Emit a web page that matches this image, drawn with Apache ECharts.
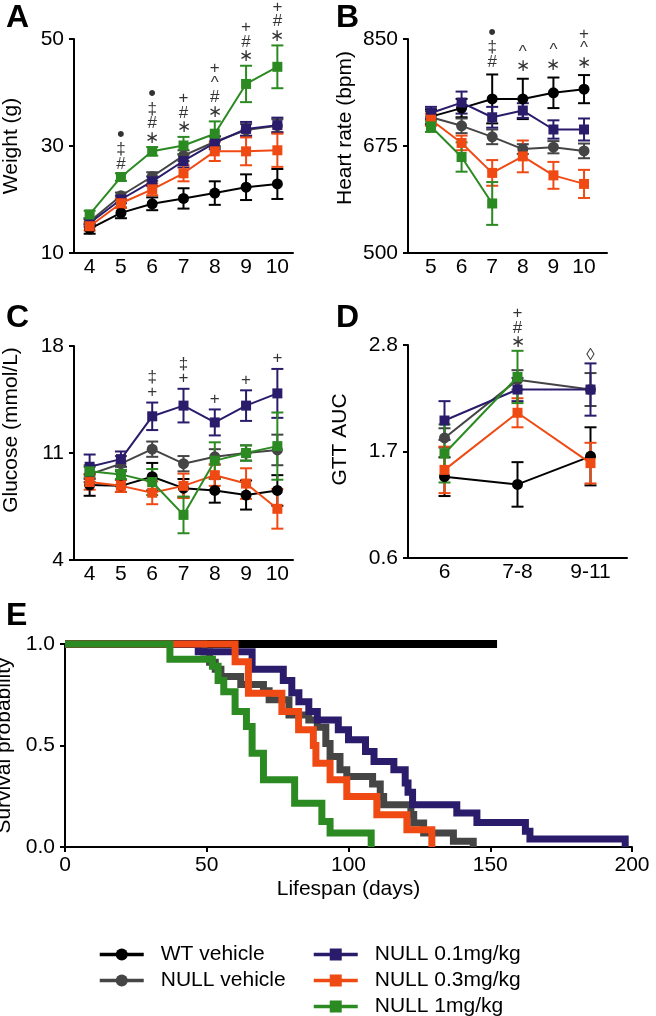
<!DOCTYPE html>
<html><head><meta charset="utf-8">
<script src="https://cdn.jsdelivr.net/npm/echarts@6/dist/echarts.min.js"></script>
<style>html,body{margin:0;padding:0;background:#fff}#c{width:656px;height:1016px}</style>
</head><body><div id="c"></div>
<script>
// ---------- groups ----------
const groupNames = ['WT vehicle', 'NULL vehicle', 'NULL 0.1mg/kg', 'NULL 0.3mg/kg', 'NULL 1mg/kg'];

// ---------- Panel A: weight (g) ----------
const weeksA = [4, 5, 6, 7, 8, 9, 10];
const weightWT = [14.5, 17.5, 19.2, 20.2, 21.2, 22.3, 22.9];
const weightWTErr = [0.9, 1.0, 1.2, 1.9, 2.2, 2.4, 2.8];
const weightNull = [15.9, 20.7, 24.3, 28.2, 30.8, 33.0, 33.8];
const weightNullErr = [0.6, 0.6, 0.8, 1.0, 1.0, 1.1, 1.2];
const weight01 = [15.6, 20.0, 23.4, 27.2, 30.6, 33.2, 33.9];
const weight01Err = [0.7, 0.7, 0.9, 1.2, 1.2, 1.3, 1.4];
const weight03 = [15.0, 19.3, 21.9, 24.9, 29.0, 29.0, 29.2];
const weight03Err = [0.8, 0.9, 1.1, 1.5, 1.8, 2.6, 3.1];
const weight1 = [17.2, 24.2, 29.0, 30.1, 32.3, 41.6, 44.8];
const weight1Err = [0.7, 0.7, 0.8, 1.6, 2.3, 3.4, 4.0];
const annWeeksA = [5, 6, 7, 8, 9, 10];
const annTextA = ['•\n‡\n#', '•\n‡\n#\n∗', '+\n#\n∗', '+\n^\n#\n∗', '+\n#\n∗', '+\n#\n∗'];

// ---------- Panel B: heart rate (bpm) ----------
const weeksB = [5, 6, 7, 8, 9, 10];
const hrWT = [723, 737, 752, 752, 762, 768];
const hrWTErr = [12, 15, 40, 33, 25, 23];
const hrNull = [722, 708, 690, 670, 673, 667];
const hrNullErr = [10, 12, 12, 8, 10, 12];
const hr01 = [729, 746, 722, 733, 702, 702];
const hr01Err = [10, 18, 17, 12, 15, 18];
const hr03 = [718, 680, 631, 658, 627, 613];
const hr03Err = [10, 12, 21, 26, 22, 23];
const hr1 = [707, 657, 581, null, null, null];
const hr1Err = [9, 24, 35, null, null, null];
const annWeeksB = [7, 8, 9, 10];
const annTextB = ['•\n‡\n#', '^\n∗', '^\n∗', '+\n^\n∗'];

// ---------- Panel C: glucose (mmol/L) ----------
const weeksC = [4, 5, 6, 7, 8, 9, 10];
const gluWT = [8.9, 8.85, 9.45, 8.7, 8.55, 8.25, 8.55];
const gluWTErr = [0.7, 0.4, 0.9, 0.6, 0.8, 0.95, 1.0];
const gluNull = [9.6, 10.3, 11.25, 10.3, 10.75, 11.0, 11.2];
const gluNullErr = [0.5, 0.5, 0.5, 0.5, 0.5, 0.5, 1.0];
const glu01 = [10.1, 10.6, 13.4, 14.1, 13.0, 14.1, 14.9];
const glu01Err = [0.8, 0.5, 0.9, 1.1, 0.85, 1.0, 1.6];
const glu03 = [9.1, 8.85, 8.4, 8.85, 9.55, 9.0, 7.35];
const glu03Err = [0.5, 0.4, 0.75, 0.8, 0.7, 1.0, 1.3];
const glu1 = [9.8, 9.6, 9.1, 6.95, 10.5, 11.0, 11.45];
const glu1Err = [0.4, 0.3, 0.85, 1.2, 1.2, 0.5, 2.2];
const annWeeksC = [6, 7, 8, 9, 10];
const annTextC = ['‡\n+', '‡\n+', '+', '+', '+'];

// ---------- Panel D: GTT AUC ----------
const gttWeeks = ['6', '7-8', '9-11'];
const gttWT = [1.44, 1.36, 1.65];
const gttWTErr = [0.2, 0.23, 0.3];
const gttNull = [1.84, 2.44, 2.34];
const gttNullErr = [0.1, 0.1, 0.17];
const gtt01 = [2.02, 2.34, 2.34];
const gtt01Err = [0.2, 0.12, 0.27];
const gtt03 = [1.51, 2.10, 1.58];
const gtt03Err = [0.24, 0.15, 0.21];
const gtt1 = [1.68, 2.47, null];
const gtt1Err = [0.3, 0.27, null];
const annWeeksD = ['7-8', '9-11'];
const annTextD = ['+\n#\n∗', '◊'];

// ---------- Panel E: survival ----------
const kmWTDays = [0, 152.4];
const kmWTSurv = [1, 1];
const kmNullDays = [0, 49, 51, 53, 55, 62, 70, 72, 79, 86, 89, 92, 93.5, 97, 99.4, 108.5, 111.2, 112.4, 122, 123, 126.5, 137, 144];
const kmNullSurv = [1, 0.96, 0.91, 0.876, 0.84, 0.80, 0.77, 0.725, 0.65, 0.626, 0.59, 0.51, 0.446, 0.38, 0.347, 0.31, 0.249, 0.208, 0.16, 0.118, 0.069, 0.028, 0];
const km01Days = [0, 47, 66, 77, 80, 82.5, 86, 89, 96.4, 100, 106, 109, 116, 120, 121, 122.6, 138.2, 145.3, 162.4, 164, 197.6];
const km01Surv = [1, 0.962, 0.876, 0.82, 0.76, 0.716, 0.667, 0.626, 0.577, 0.528, 0.47, 0.421, 0.38, 0.315, 0.27, 0.208, 0.167, 0.121, 0.077, 0.039, 0];
const km03Days = [0, 60, 64.7, 76.5, 82.4, 87.6, 88.5, 93.5, 99.4, 110, 120.6, 129.4];
const km03Surv = [1, 0.913, 0.757, 0.667, 0.577, 0.5, 0.413, 0.331, 0.249, 0.159, 0.085, 0];
const km1Days = [0, 37, 52, 54, 56, 60, 64, 66, 70, 81, 90.6, 93.5, 108];
const km1Surv = [1, 0.925, 0.89, 0.82, 0.765, 0.667, 0.593, 0.462, 0.331, 0.216, 0.126, 0.069, 0];

// ---------- styles ----------
const COL = {'WT vehicle': '#000000', 'NULL vehicle': '#454545', 'NULL 0.1mg/kg': '#2b1b6b', 'NULL 0.3mg/kg': '#ef4a14', 'NULL 1mg/kg': '#2c8a22'};
const SYM = {'WT vehicle': 'circle', 'NULL vehicle': 'circle', 'NULL 0.1mg/kg': 'rect', 'NULL 0.3mg/kg': 'rect', 'NULL 1mg/kg': 'rect'};
const FONT = 'Liberation Sans, Arial, Helvetica, sans-serif';
const drawOrder = ['WT vehicle', 'NULL vehicle', 'NULL 0.1mg/kg', 'NULL 0.3mg/kg', 'NULL 1mg/kg'];

const panels = [
  {xs: weeksA, vals: {'WT vehicle': weightWT, 'NULL vehicle': weightNull, 'NULL 0.1mg/kg': weight01, 'NULL 0.3mg/kg': weight03, 'NULL 1mg/kg': weight1},
   errs: {'WT vehicle': weightWTErr, 'NULL vehicle': weightNullErr, 'NULL 0.1mg/kg': weight01Err, 'NULL 0.3mg/kg': weight03Err, 'NULL 1mg/kg': weight1Err},
   annX: annWeeksA, annT: annTextA, dist: 2},
  {xs: weeksB, vals: {'WT vehicle': hrWT, 'NULL vehicle': hrNull, 'NULL 0.1mg/kg': hr01, 'NULL 0.3mg/kg': hr03, 'NULL 1mg/kg': hr1},
   errs: {'WT vehicle': hrWTErr, 'NULL vehicle': hrNullErr, 'NULL 0.1mg/kg': hr01Err, 'NULL 0.3mg/kg': hr03Err, 'NULL 1mg/kg': hr1Err},
   annX: annWeeksB, annT: annTextB, dist: 5},
  {xs: weeksC, vals: {'WT vehicle': gluWT, 'NULL vehicle': gluNull, 'NULL 0.1mg/kg': glu01, 'NULL 0.3mg/kg': glu03, 'NULL 1mg/kg': glu1},
   errs: {'WT vehicle': gluWTErr, 'NULL vehicle': gluNullErr, 'NULL 0.1mg/kg': glu01Err, 'NULL 0.3mg/kg': glu03Err, 'NULL 1mg/kg': glu1Err},
   annX: annWeeksC, annT: annTextC, dist: 3},
  {xs: gttWeeks, vals: {'WT vehicle': gttWT, 'NULL vehicle': gttNull, 'NULL 0.1mg/kg': gtt01, 'NULL 0.3mg/kg': gtt03, 'NULL 1mg/kg': gtt1},
   errs: {'WT vehicle': gttWTErr, 'NULL vehicle': gttNullErr, 'NULL 0.1mg/kg': gtt01Err, 'NULL 0.3mg/kg': gtt03Err, 'NULL 1mg/kg': gtt1Err},
   annX: annWeeksD, annT: annTextD, dist: 1}
];

const series = [];
function lineSeries(gi, name, xs, vals) {
  return {
    type: 'line', name, xAxisIndex: gi, yAxisIndex: gi,
    data: xs.map((x, i) => vals[i] == null ? null : [x, vals[i]]).filter(d => d),
    symbol: SYM[name], symbolSize: SYM[name] === 'circle' ? 11 : 10,
    lineStyle: {color: COL[name], width: 2}, itemStyle: {color: COL[name]},
    z: 3 + drawOrder.indexOf(name) * 0.1, animation: false
  };
}
function errSeries(gi, name, xs, vals, errs) {
  const color = COL[name];
  return {
    type: 'custom', name: name + ' err', xAxisIndex: gi, yAxisIndex: gi, silent: true, animation: false,
    z: 2 + drawOrder.indexOf(name) * 0.1,
    data: xs.map((x, i) => vals[i] == null ? null : [x, vals[i] - errs[i], vals[i] + errs[i]]).filter(d => d),
    renderItem: function (params, api) {
      const p1 = api.coord([api.value(0), api.value(2)]);
      const p2 = api.coord([api.value(0), api.value(1)]);
      const hw = 6;
      const st = {stroke: color, lineWidth: 2, fill: null};
      return {type: 'group', children: [
        {type: 'line', shape: {x1: p1[0], y1: p1[1], x2: p2[0], y2: p2[1]}, style: st},
        {type: 'line', shape: {x1: p1[0] - hw, y1: p1[1], x2: p1[0] + hw, y2: p1[1]}, style: st},
        {type: 'line', shape: {x1: p2[0] - hw, y1: p2[1], x2: p2[0] + hw, y2: p2[1]}, style: st}
      ]};
    }
  };
}
panels.forEach((p, gi) => {
  drawOrder.forEach(name => series.push(lineSeries(gi, name, p.xs, p.vals[name])));
});
panels.forEach((p, gi) => {
  drawOrder.forEach(name => series.push(errSeries(gi, name, p.xs, p.vals[name], p.errs[name])));
  const annData = p.annX.map((x, k) => {
    const i = p.xs.indexOf(x);
    let top = -Infinity;
    drawOrder.forEach(n => { const v = p.vals[n][i], e = p.errs[n][i]; if (v != null) top = Math.max(top, v + e); });
    return [x, top, p.annT[k]];
  });
  series.push({
    type: 'scatter', xAxisIndex: gi, yAxisIndex: gi, silent: true, animation: false, symbolSize: 0,
    data: annData, z: 10,
    label: {show: true, position: 'top', distance: p.dist,
      formatter: d => d.data[2].split('\n').map(s => s === '•' ? '{b|•}' : '{t|' + s + '}').join('\n'),
      color: '#000', fontFamily: FONT, align: 'center',
      rich: {
        t: {fontSize: 17, lineHeight: 14.5, color: '#000', fontFamily: FONT},
        b: {fontSize: 22, lineHeight: 14.5, color: '#000', fontFamily: FONT}
      }}
  });
});

// survival curves
const km = {'WT vehicle': [kmWTDays, kmWTSurv], 'NULL vehicle': [kmNullDays, kmNullSurv],
  'NULL 0.1mg/kg': [km01Days, km01Surv], 'NULL 0.3mg/kg': [km03Days, km03Surv], 'NULL 1mg/kg': [km1Days, km1Surv]};
drawOrder.forEach((name, k) => {
  const [d, s] = km[name];
  series.push({
    type: 'line', name, xAxisIndex: 4, yAxisIndex: 4, step: 'end', symbol: 'none', animation: false,
    data: d.map((x, i) => [x, s[i]]), z: 3 + k * 0.1, clip: false,
    lineStyle: {color: COL[name], width: name === 'WT vehicle' ? 8 : 7, join: 'miter', cap: 'butt'},
    itemStyle: {color: COL[name]}
  });
});

// ---------- axes ----------
const axLine = {show: true, lineStyle: {color: '#000', width: 2}};
const tickOn = {show: true, length: 5, lineStyle: {color: '#000', width: 2}};
const lbl = {color: '#000', fontSize: 21, fontFamily: FONT};
const nameStyle = pad => ({color: '#000', fontSize: 21, fontFamily: FONT, padding: [0, 0, 0, pad]});
const intOnly = v => Math.abs(v - Math.round(v)) < 1e-6 ? String(Math.round(v)) : '';
function xVal(gi, min, max, interval) {
  return {type: 'value', gridIndex: gi, min, max, interval, axisLine: axLine, axisTick: {show: false},
    splitLine: {show: false}, axisLabel: Object.assign({margin: 4, formatter: intOnly}, lbl)};
}
function yVal(gi, min, max, interval, name, gap, pad, dec) {
  return {type: 'value', gridIndex: gi, min, max, interval, name, nameLocation: 'middle', nameGap: gap,
    nameTextStyle: nameStyle(pad),
    axisLine: axLine, axisTick: tickOn, splitLine: {show: false},
    axisLabel: Object.assign({margin: 10, formatter: v => dec ? v.toFixed(dec) : String(Math.round(v))}, lbl)};
}
const gridBase = {containLabel: false, outerBoundsMode: 'none'};

const legendBase = {orient: 'vertical', itemWidth: 44, itemHeight: 15, itemGap: 5, padding: 0, height: 75,
  selectedMode: false, lineStyle: {width: 3.5},
  textStyle: {fontSize: 21, lineHeight: 20, color: '#000', fontFamily: FONT, padding: [0, 0, 0, 12]}};

const option = {
  animation: false,
  backgroundColor: '#fff',
  textStyle: {fontFamily: FONT},
  title: [
    {text: 'A', left: 1, top: -3},
    {text: 'B', left: 331, top: -3},
    {text: 'C', left: 1, top: 297},
    {text: 'D', left: 331, top: 297},
    {text: 'E', left: 1, top: 595}
  ].map(t => Object.assign(t, {textStyle: {fontSize: 32, fontWeight: 'bold', color: '#000', fontFamily: FONT}})),
  grid: [
    Object.assign({left: 74, top: 39, width: 219, height: 214}, gridBase),
    Object.assign({left: 408, top: 39, width: 199, height: 214}, gridBase),
    Object.assign({left: 74, top: 346, width: 219, height: 214}, gridBase),
    Object.assign({left: 408, top: 345, width: 219, height: 213}, gridBase),
    Object.assign({left: 65, top: 644, width: 567, height: 203}, gridBase)
  ],
  xAxis: [
    xVal(0, 3.5, 10.5, 0.5),
    xVal(1, 4.25, 10.75, 0.25),
    xVal(2, 3.5, 10.5, 0.5),
    {type: 'category', gridIndex: 3, data: gttWeeks, boundaryGap: true, axisLine: axLine, axisTick: {show: false},
      splitLine: {show: false}, axisLabel: Object.assign({margin: 4}, lbl)},
    {type: 'value', gridIndex: 4, min: 0, max: 200, interval: 50, name: 'Lifespan (days)', nameLocation: 'middle', nameGap: 32,
      nameTextStyle: {color: '#000', fontSize: 21, fontFamily: FONT},
      axisLine: axLine, axisTick: tickOn, splitLine: {show: false}, axisLabel: Object.assign({margin: 8}, lbl)}
  ],
  yAxis: [
    yVal(0, 10, 50, 20, 'Weight (g)', 52, 0),
    yVal(1, 500, 850, 175, 'Heart rate (bpm)', 52, 36),
    yVal(2, 4, 18, 7, 'Glucose (mmol/L)', 52, 46),
    yVal(3, 0.6, 2.8, 1.1, 'GTT AUC', 57, 24, 1),
    yVal(4, 0, 1, 0.5, 'Survival probability', 42, 0, 1)
  ],
  legend: [
    Object.assign({data: ['WT vehicle', 'NULL vehicle'], left: 98, top: 944}, legendBase),
    Object.assign({data: ['NULL 0.1mg/kg', 'NULL 0.3mg/kg', 'NULL 1mg/kg'], left: 312, top: 944}, legendBase)
  ],
  series
};
const chart = echarts.init(document.getElementById('c'), null, {renderer: 'canvas'});
chart.setOption(option);
</script>
</body></html>
